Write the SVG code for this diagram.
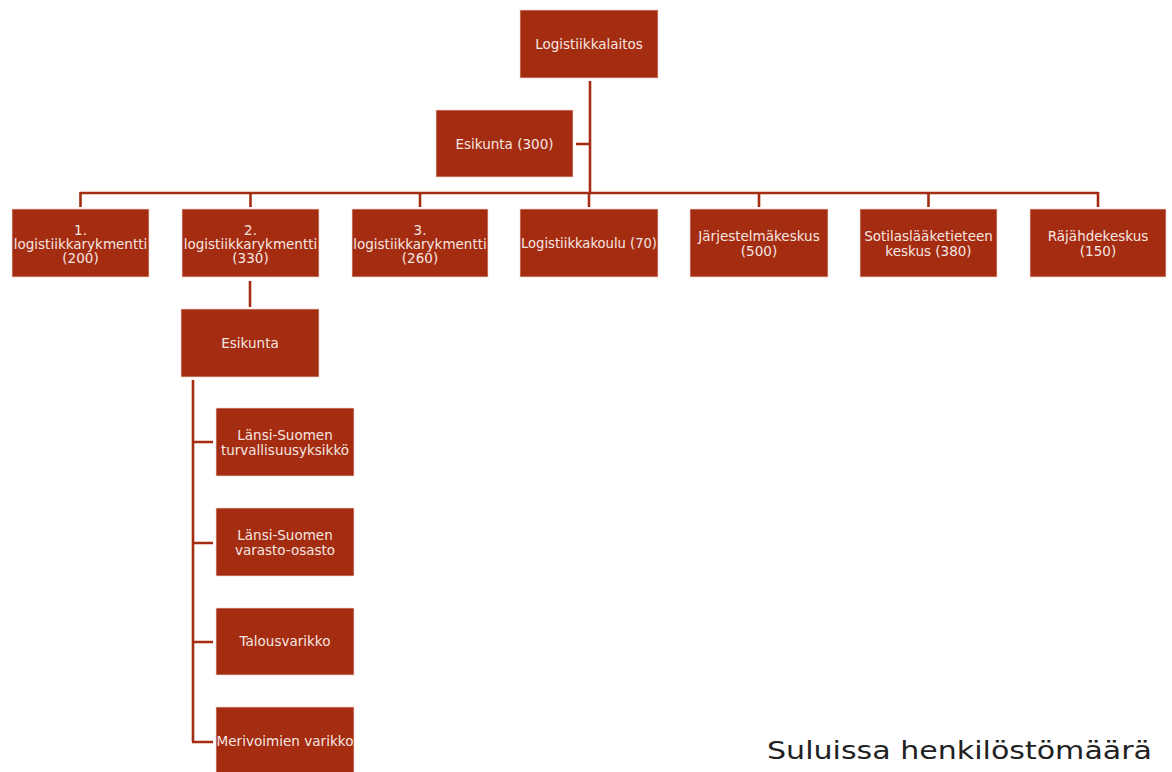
<svg xmlns="http://www.w3.org/2000/svg" width="1172" height="772" viewBox="0 0 1172 772">
<style>
.box{fill:#A42C10;stroke:#F3D9D1;stroke-width:1;stroke-opacity:0.7}
.t{font-family:"DejaVu Sans","Liberation Sans",sans-serif;font-size:13.5px;fill:#F6E6E1;text-anchor:middle}
.c{fill:none;stroke:#A42C10;stroke-width:2.6}
.note{font-family:"DejaVu Sans","Liberation Sans",sans-serif;font-size:25px;fill:#222222}
</style>
<rect width="1172" height="772" fill="#FFFFFF"/>
<g id="connectors">
<path class="c" d="M590 81V193"/>
<path class="c" d="M576 144H590"/>
<path class="c" d="M80.5 193H1098"/>
<path class="c" d="M80.5 192V207M250.5 192V207M420 192V207M589 192V207M759 192V207M928.5 192V207M1098 192V207"/>
<path class="c" d="M250 281V307"/>
<path class="c" d="M193 380V742M192 442H213M192 543H213M192 642H213M192 742H213"/>
</g>
<g id="n-logistiikkalaitos"><rect class="box" x="520" y="10" width="138" height="68"/><text class="t" x="589" y="49">Logistiikkalaitos</text></g>
<g id="n-esikunta300"><rect class="box" x="436" y="110" width="137" height="67"/><text class="t" x="504.5" y="149">Esikunta (300)</text></g>
<g id="n-lr1"><rect class="box" x="12" y="209" width="137" height="68"/><text class="t" x="80.5" y="235">1.</text><text class="t" x="80.5" y="249">logistiikkarykmentti</text><text class="t" x="80.5" y="263">(200)</text></g>
<g id="n-lr2"><rect class="box" x="182" y="209" width="137" height="68"/><text class="t" x="250.5" y="235">2.</text><text class="t" x="250.5" y="249">logistiikkarykmentti</text><text class="t" x="250.5" y="263">(330)</text></g>
<g id="n-lr3"><rect class="box" x="352" y="209" width="136" height="68"/><text class="t" x="420" y="235">3.</text><text class="t" x="420" y="249">logistiikkarykmentti</text><text class="t" x="420" y="263">(260)</text></g>
<g id="n-koulu"><rect class="box" x="520" y="209" width="138" height="68"/><text class="t" x="589" y="248" textLength="136" lengthAdjust="spacingAndGlyphs">Logistiikkakoulu (70)</text></g>
<g id="n-jarjestelma"><rect class="box" x="690" y="209" width="138" height="68"/><text class="t" x="759" y="241">Järjestelmäkeskus</text><text class="t" x="759" y="256">(500)</text></g>
<g id="n-sotilas"><rect class="box" x="860" y="209" width="137" height="68"/><text class="t" x="928.5" y="241">Sotilaslääketieteen</text><text class="t" x="928.5" y="256">keskus (380)</text></g>
<g id="n-rajahde"><rect class="box" x="1030" y="209" width="136" height="68"/><text class="t" x="1098" y="241">Räjähdekeskus</text><text class="t" x="1098" y="256">(150)</text></g>
<g id="n-esikunta"><rect class="box" x="181" y="309" width="138" height="68"/><text class="t" x="250" y="348">Esikunta</text></g>
<g id="n-turva"><rect class="box" x="216" y="408" width="138" height="68"/><text class="t" x="285" y="440">Länsi-Suomen</text><text class="t" x="285" y="455">turvallisuusyksikkö</text></g>
<g id="n-varasto"><rect class="box" x="216" y="508" width="138" height="68"/><text class="t" x="285" y="540">Länsi-Suomen</text><text class="t" x="285" y="555">varasto-osasto</text></g>
<g id="n-talous"><rect class="box" x="216" y="608" width="138" height="67"/><text class="t" x="285" y="646">Talousvarikko</text></g>
<g id="n-meri"><rect class="box" x="216" y="707" width="138" height="68"/><text class="t" x="285" y="746" textLength="137" lengthAdjust="spacingAndGlyphs">Merivoimien varikko</text></g>
<text class="note" x="767" y="759" textLength="385" lengthAdjust="spacingAndGlyphs">Suluissa henkilöstömäärä</text>
</svg>
